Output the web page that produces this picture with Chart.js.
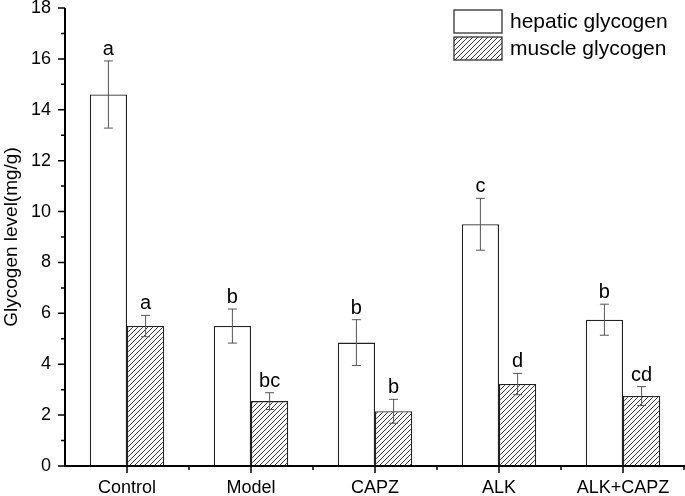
<!DOCTYPE html>
<html>
<head>
<meta charset="utf-8">
<script src="https://cdn.jsdelivr.net/npm/chart.js@4.4.0/dist/chart.umd.min.js"></script>
<style>
  html, body { margin: 0; padding: 0; background: #fff; }
  #wrap { width: 685px; height: 496px; }
</style>
</head>
<body>
<div id="wrap"><canvas id="chart" width="685" height="496"></canvas></div>
<script>
// Données
const groups = ['Control', 'Model', 'CAPZ', 'ALK', 'ALK+CAPZ'];
const hepaticMean = [14.6, 5.5, 4.85, 9.5, 5.75];
const hepaticErr = [1.32, 0.67, 0.9, 1.02, 0.61];
const hepaticLetters = ['a', 'b', 'b', 'c', 'b'];
const muscleMean = [5.5, 2.55, 2.15, 3.22, 2.75];
const muscleErr = [0.42, 0.33, 0.47, 0.42, 0.37];
const muscleLetters = ['a', 'bc', 'b', 'd', 'cd'];
const yTicks = [0, 2, 4, 6, 8, 10, 12, 14, 16, 18];

const FONT = '"Liberation Sans", Arial, sans-serif';

// motif hachuré pour le glycogène musculaire
function makeHatch() {
    const s = 5;
    const c = document.createElement('canvas');
    c.width = s; c.height = s;
    const g = c.getContext('2d');
    g.fillStyle = '#fff';
    g.fillRect(0, 0, s, s);
    g.strokeStyle = '#3a3a3a';
    g.lineWidth = 1;
    g.beginPath();
    g.moveTo(0, s); g.lineTo(s, 0);
    g.moveTo(-1, 1); g.lineTo(1, -1);
    g.moveTo(s - 1, s + 1); g.lineTo(s + 1, s - 1);
    g.stroke();
    return g.createPattern(c, 'repeat');
}
const hatch = makeHatch();

const errors = [hepaticErr, muscleErr];
const letters = [hepaticLetters, muscleLetters];

// barres d'erreur + lettres
const errorPlugin = {
    id: 'errorBars',
    afterDatasetsDraw(chart) {
        const ctx = chart.ctx;
        const y = chart.scales.y;
        ctx.save();
        chart.data.datasets.forEach((ds, di) => {
            const meta = chart.getDatasetMeta(di);
            meta.data.forEach((bar, i) => {
                const m = ds.data[i];
                const e = errors[di][i];
                const top = y.getPixelForValue(m + e);
                const bot = y.getPixelForValue(m - e);
                const x = bar.x;
                ctx.strokeStyle = '#555';
                ctx.lineWidth = 1;
                ctx.beginPath();
                ctx.moveTo(x, top); ctx.lineTo(x, bot);
                ctx.moveTo(x - 4.5, top); ctx.lineTo(x + 4.5, top);
                ctx.moveTo(x - 4.5, bot); ctx.lineTo(x + 4.5, bot);
                ctx.stroke();
                ctx.fillStyle = '#000';
                ctx.font = '20px ' + FONT;
                ctx.textAlign = 'center';
                ctx.textBaseline = 'alphabetic';
                ctx.fillText(letters[di][i], x, top - 6);
            });
        });
        ctx.restore();
    }
};

// axes, graduations majeures / mineures, légende
const tickPlugin = {
    id: 'axisTicks',
    afterDraw(chart) {
        const ctx = chart.ctx;
        const xs = chart.scales.x, ys = chart.scales.y;
        const area = chart.chartArea;
        const L = 65, B = ys.getPixelForValue(0);
        ctx.save();
        ctx.strokeStyle = '#000';
        ctx.lineWidth = 2;
        ctx.beginPath();
        ctx.moveTo(L, area.top); ctx.lineTo(L, B);
        ctx.lineTo(chart.width, B);
        ctx.stroke();

        ctx.lineWidth = 1.5;
        ctx.beginPath();
        for (let v = 0; v <= 18; v++) {
            const py = ys.getPixelForValue(v);
            const len = v % 2 === 0 ? 7 : 4;
            ctx.moveTo(L - len, py); ctx.lineTo(L, py);
        }
        const step = (chart.width - L) / groups.length;
        groups.forEach((g, i) => {
            const px = xs.getPixelForValue(i);
            ctx.moveTo(px, B); ctx.lineTo(px, B + 7);
            const bx = Math.min(L + step * (i + 1), chart.width - 1);
            ctx.moveTo(bx, B); ctx.lineTo(bx, B + 4);
        });
        ctx.stroke();

        // légende
        const names = chart.data.datasets.map(d => d.label);
        const fills = ['#fff', hatch];
        names.forEach((n, i) => {
            const ly = 10 + i * 27;
            ctx.fillStyle = fills[i];
            ctx.fillRect(454, ly, 48, 23);
            ctx.strokeStyle = '#333';
            ctx.lineWidth = 1.3;
            ctx.strokeRect(454, ly, 48, 23);
            ctx.fillStyle = '#000';
            ctx.font = '21px ' + FONT;
            ctx.textAlign = 'left';
            ctx.textBaseline = 'middle';
            ctx.fillText(n, 510, ly + 12);
        });
        ctx.restore();
    }
};

new Chart(document.getElementById('chart'), {
    type: 'bar',
    data: {
        labels: groups,
        datasets: [
            {
                label: 'hepatic glycogen',
                data: hepaticMean,
                backgroundColor: '#fff',
                borderColor: '#222',
                borderWidth: 1.3
            },
            {
                label: 'muscle glycogen',
                data: muscleMean,
                backgroundColor: hatch,
                borderColor: '#222',
                borderWidth: 1.3
            }
        ]
    },
    options: {
        responsive: false,
        animation: false,
        layout: { padding: { top: 8, right: 0, left: 0, bottom: 0 } },
        datasets: { bar: { categoryPercentage: 0.6, barPercentage: 1.0 } },
        scales: {
            x: {
                offset: true,
                grid: { display: false, drawTicks: false },
                border: { display: false },
                ticks: { color: '#000', font: { family: FONT, size: 18 }, padding: 11, maxRotation: 0 },
                afterFit(s) { s.height = 30; s.paddingLeft = 0; s.paddingRight = 0; }
            },
            y: {
                min: 0,
                max: 18,
                afterBuildTicks(s) { s.ticks = yTicks.map(v => ({ value: v })); },
                grid: { display: false, drawTicks: false },
                border: { display: false },
                ticks: { color: '#000', font: { family: FONT, size: 18 }, padding: 14 },
                title: {
                    display: true,
                    text: 'Glycogen level(mg/g)',
                    color: '#000',
                    font: { family: FONT, size: 19 },
                    padding: 0
                },
                afterFit(s) { s.width = 65; s.paddingTop = 0; s.paddingBottom = 0; }
            }
        },
        plugins: {
            legend: { display: false },
            tooltip: { enabled: false }
        }
    },
    plugins: [errorPlugin, tickPlugin]
});
</script>
</body>
</html>
